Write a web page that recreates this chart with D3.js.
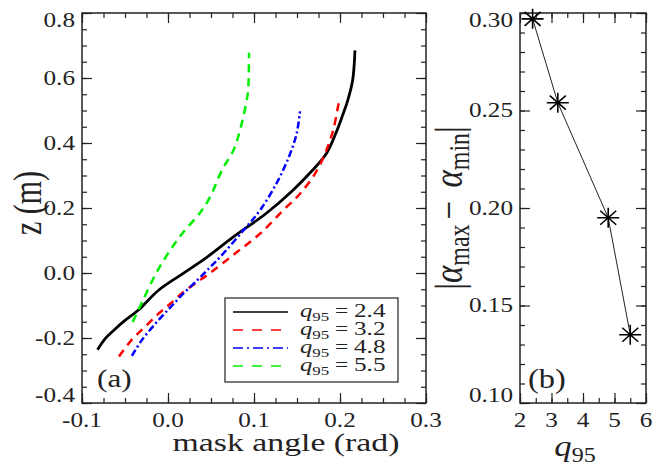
<!DOCTYPE html>
<html>
<head>
<meta charset="utf-8">
<script src="https://cdn.jsdelivr.net/npm/d3@7"></script>
<style>
  body { margin: 0; background: #fff; }
  svg { display: block; font-family: "Liberation Serif", "Times New Roman", "DejaVu Serif", serif; }
</style>
</head>
<body>
<svg id="chart" width="652" height="466"></svg>
<script>
// panel (a): mask angle (rad) against z (m), one curve per q95
const q95Labels = ["2.4", "3.2", "4.8", "5.5"];

const angle24 = [-0.082, -0.073, -0.063, -0.050, -0.034, -0.011, 0.016, 0.043, 0.076, 0.114, 0.145, 0.168, 0.184, 0.195, 0.203, 0.209, 0.2147, 0.2174];
const z24     = [-0.236, -0.202, -0.176, -0.146, -0.113, -0.053, -0.004, 0.044, 0.111, 0.183, 0.254, 0.316, 0.367, 0.429, 0.485, 0.531, 0.593, 0.685];

const angle32 = [-0.057, -0.042, -0.028, -0.011, 0.003, 0.018, 0.034, 0.049, 0.078, 0.107, 0.134, 0.1535, 0.171, 0.1825, 0.192, 0.198, 0.1995];
const z32     = [-0.257, -0.205, -0.169, -0.125, -0.094, -0.058, -0.028, 0.000, 0.060, 0.121, 0.193, 0.244, 0.306, 0.367, 0.439, 0.516, 0.535];

const angle48 = [-0.042, -0.030, -0.013, 0.003, 0.018, 0.036, 0.049, 0.0605, 0.0876, 0.107, 0.128, 0.142, 0.1496, 0.1535];
const z48     = [-0.255, -0.205, -0.151, -0.105, -0.063, -0.017, 0.018, 0.049, 0.131, 0.193, 0.285, 0.367, 0.429, 0.497];

const angle55 = [-0.041, -0.030, -0.013, 0.005, 0.018, 0.038, 0.049, 0.063, 0.076, 0.0837, 0.0915, 0.0934, 0.0942];
const z55     = [-0.151, -0.089, 0.003, 0.080, 0.126, 0.188, 0.234, 0.318, 0.377, 0.439, 0.531, 0.572, 0.678];

// panel (b): |alpha_max - alpha_min| against q95
const q95Values   = [2.4, 3.2, 4.8, 5.5];
const alphaSpread = [0.297, 0.254, 0.195, 0.135];

const xTicksA = [-0.1, 0.0, 0.1, 0.2, 0.3];
const xTickLabelsA = ["-0.1", "0.0", "0.1", "0.2", "0.3"];
const yTicksA = [-0.4, -0.2, 0.0, 0.2, 0.4, 0.6, 0.8];
const yTickLabelsA = ["-0.4", "-0.2", "0.0", "0.2", "0.4", "0.6", "0.8"];
const xTicksB = [2, 3, 4, 5, 6];
const xTickLabelsB = ["2", "3", "4", "5", "6"];
const yTicksB = [0.10, 0.15, 0.20, 0.25, 0.30];
const yTickLabelsB = ["0.10", "0.15", "0.20", "0.25", "0.30"];

const SX = 1.2; // the source figure is stretched sideways, text too
const ink = "#222";
const svg = d3.select("#chart");

const xA = d3.scaleLinear().domain([-0.1, 0.3]).range([82, 426]);
const yA = d3.scaleLinear().domain([-0.4, 0.8]).range([403, 13]);
const xB = d3.scaleLinear().domain([2, 6]).range([520, 646]);
const yB = d3.scaleLinear().domain([0.1, 0.3]).range([403, 13]);

function label(g, x, y, str, size, anchor, rot, sx) {
  return g.append("text")
    .attr("transform", `translate(${x},${y}) scale(${sx || SX},1)` + (rot ? ` rotate(${rot})` : ""))
    .attr("text-anchor", anchor || "middle")
    .attr("font-size", size)
    .attr("fill", ink)
    .text(str);
}

function frame(x, y, xMajor, xMinor, yMajor, yMinor) {
  const g = svg.append("g");
  const [xl, xr] = x.range(), [yb, yt] = y.range();
  const sides = [
    [d3.axisBottom, x, `translate(0,${yb})`, xMajor, xMinor],
    [d3.axisTop, x, `translate(0,${yt})`, xMajor, xMinor],
    [d3.axisLeft, y, `translate(${xl},0)`, yMajor, yMinor],
    [d3.axisRight, y, `translate(${xr},0)`, yMajor, yMinor]
  ];
  sides.forEach(([make, s, tr, major, minor]) => {
    [[minor, 5], [major, 10]].forEach(([vals, len]) => {
      g.append("g").attr("transform", tr)
        .call(make(s).tickValues(vals).tickSize(-len).tickFormat(""))
        .call(a => a.select(".domain").remove())
        .selectAll("line").attr("stroke", ink).attr("stroke-width", 1.2);
    });
  });
  g.append("rect")
    .attr("x", xl).attr("y", yt).attr("width", xr - xl).attr("height", yb - yt)
    .attr("fill", "none").attr("stroke", ink).attr("stroke-width", 1.5);
  return g;
}

function yLabels(g, y, ticks, labels, xEdge) {
  const [yb, yt] = y.range();
  ticks.forEach((v, i) => {
    const base = Math.max(yt + 13.5, Math.min(yb - 1, y(v) + 6.5));
    label(g, xEdge, base, labels[i], 21, "end");
  });
}

// ---- panel (a)
const gA = frame(xA, yA, xTicksA, d3.range(-0.1, 0.3001, 0.025), yTicksA, d3.range(-0.4, 0.8001, 0.05));
xTicksA.forEach((v, i) => label(gA, xA(v), 427, xTickLabelsA[i], 21));
yLabels(gA, yA, yTicksA, yTickLabelsA, 75);
label(gA, 286, 451, "mask angle (rad)", 26, "middle", 0, 1.3);
label(gA, 41, 203, "z (m)", 30, "middle", -90, 1.3);

const seriesA = [
  { angle: angle24, z: z24, color: "#000000", dash: null, legDash: null, width: 2.8 },
  { angle: angle32, z: z32, color: "#ff0000", dash: "8,6", legDash: "10,9", width: 2.5 },
  { angle: angle48, z: z48, color: "#0000ff", dash: "7,3,2,3", legDash: "10,4,2,4", width: 2.5 },
  { angle: angle55, z: z55, color: "#00ee00", dash: "8,6", legDash: "10,9", width: 2.5 }
];

const lineA = d3.line()
  .x(d => xA(d[0])).y(d => yA(d[1]))
  .curve(d3.curveCatmullRom.alpha(0.5));

seriesA.forEach(s => {
  gA.append("path")
    .datum(d3.zip(s.angle, s.z))
    .attr("d", lineA)
    .attr("fill", "none")
    .attr("stroke", s.color)
    .attr("stroke-width", s.width)
    .attr("stroke-dasharray", s.dash);
});

// legend
const leg = gA.append("g");
leg.append("rect").attr("x", 225).attr("y", 298).attr("width", 173).attr("height", 84)
  .attr("fill", "#fff").attr("stroke", ink).attr("stroke-width", 1.2);
seriesA.forEach((s, i) => {
  const yy = 312 + i * 18;
  leg.append("line").attr("x1", 233).attr("x2", 288).attr("y1", yy).attr("y2", yy)
    .attr("stroke", s.color).attr("stroke-width", 1.3).attr("stroke-dasharray", s.legDash);
  const t = label(leg, 300, yy + 5, "", 19, "start", 0, 1.3);
  t.append("tspan").attr("font-style", "italic").text("q");
  t.append("tspan").attr("font-size", 13).attr("dy", 3.5).text("95");
  label(leg, 335, yy + 5, "=", 18, "start", 0, 1.3);
  label(leg, 354, yy + 5, q95Labels[i], 18, "start", 0, 1.4);
});

label(gA, 97, 387, "(a)", 26, "start");

// ---- panel (b)
const gB = frame(xB, yB, xTicksB, d3.range(2, 6.001, 0.5), yTicksB, d3.range(0.1, 0.3001, 0.01));
xTicksB.forEach((v, i) => label(gB, xB(v), 427, xTickLabelsB[i], 21));
yLabels(gB, yB, yTicksB, yTickLabelsB, 513);

const tq = label(gB, 575, 456, "", 29, "middle");
tq.append("tspan").attr("font-style", "italic").text("q");
tq.append("tspan").attr("font-size", 20).attr("dy", 6).text("95");

const ty = label(gB, 462, 208, "", 33, "middle", -90);
ty.append("tspan").text("|");
ty.append("tspan").attr("font-style", "italic").text("α");
ty.append("tspan").attr("font-size", 24).attr("dy", 6).text("max");
ty.append("tspan").attr("dy", -6).attr("dx", 5).text("−");
ty.append("tspan").attr("dx", 5).attr("font-style", "italic").text(" α");
ty.append("tspan").attr("font-size", 24).attr("dy", 6).text("min");
ty.append("tspan").attr("dy", -6).text("|");

const ptsB = d3.zip(q95Values, alphaSpread);
gB.append("path")
  .datum(ptsB)
  .attr("d", d3.line().x(d => xB(d[0])).y(d => yB(d[1])))
  .attr("fill", "none").attr("stroke", ink).attr("stroke-width", 1);
gB.selectAll(".star")
  .data(ptsB)
  .join("path")
  .attr("class", "star")
  .attr("transform", d => `translate(${xB(d[0])},${yB(d[1])})`)
  .attr("d", "M-11,0H11M0,-10V10M-8,-7L8,7M-8,7L8,-7")
  .attr("stroke", "#000").attr("stroke-width", 1.6);

label(gB, 528, 388, "(b)", 27, "start");
</script>
</body>
</html>
